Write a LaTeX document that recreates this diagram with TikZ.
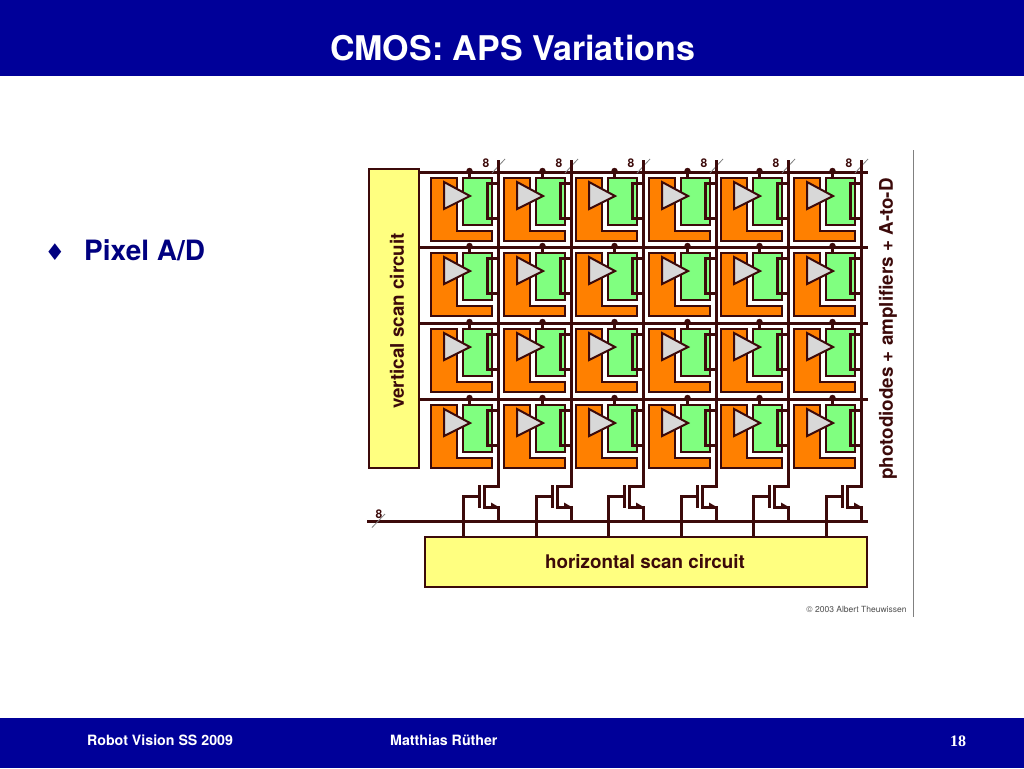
\documentclass[tikz,border=0pt]{standalone}
\usepackage{fontspec}
\setmainfont{TeX Gyre Heros}
\newfontfamily\serifbold{Liberation Serif}
\newfontfamily\symfont{DejaVu Sans}
\definecolor{barblue}{HTML}{000099}
\definecolor{navy}{HTML}{000080}
\definecolor{wire}{HTML}{3C0A0A}
\definecolor{pxorange}{HTML}{FF8000}
\definecolor{pxgreen}{HTML}{80FF80}
\definecolor{tri}{HTML}{D8D8D8}
\definecolor{scan}{HTML}{FFFF80}
\tikzset{
  bar/.style={fill=barblue,draw=none},
  scanbox/.style={draw=wire,fill=scan,line width=2pt,inner sep=0pt},
  cellpart/.style={draw=wire,line width=2pt,line join=miter},
  buswire/.style={draw=wire,line width=3pt},
  thinwire/.style={draw=wire,line width=3pt},
  slash/.style={draw=gray,line width=.8pt},
  eightlabel/.style={font=\bfseries\fontsize{12}{12}\selectfont,text=wire,inner sep=0pt},
  rotlabel/.style={font=\bfseries\fontsize{18.8}{18.8}\selectfont,text=wire,rotate=90,inner sep=0pt},
  foot/.style={font=\bfseries\fontsize{14.2}{14.2}\selectfont,text=white,inner sep=0pt,anchor=west}
}
\begin{document}
\begin{tikzpicture}[x=1pt,y=-1pt]
\useasboundingbox (0,0) rectangle (1024,768);
\fill[white] (0,0) rectangle (1024,768);
\path[bar] (0,0) rectangle (1024,76);
\path[bar] (0,718) rectangle (1024,768);
\node[inner sep=0pt,text=white,font=\bfseries\fontsize{34}{34}\selectfont] (title) at (512.5,48) {CMOS: APS Variations};
\node[inner sep=0pt,text=navy,font=\symfont\fontsize{23}{23}\selectfont] (bullet) at (55,252) {♦};
\node[inner sep=0pt,anchor=west,text=navy,font=\bfseries\fontsize{28}{28}\selectfont] (item) at (84,250) {Pixel A/D};
\node[foot] (f1) at (87,740) {Robot Vision SS 2009};
\node[foot] (f2) at (390,740) {Matthias Rüther};
\node[inner sep=0pt,text=white,font=\serifbold\bfseries\fontsize{16}{16}\selectfont] (f3) at (958,741) {18};

% scan blocks
\node[scanbox,minimum width=50pt,minimum height=299pt] (vscan) at (394,318.5) {};
\node[scanbox,minimum width=442pt,minimum height=50pt] (hscan) at (646,562) {};
\node[rotlabel] (vtext) at (397,321) {vertical scan circuit};
\node[inner sep=0pt,font=\bfseries\fontsize{18.8}{18.8}\selectfont,text=wire] (htext) at (645,562) {horizontal scan circuit};
\node[rotlabel] (ptext) at (888,329) {photodiodes + amplifiers + A-to-D};
\node[inner sep=0pt,font=\fontsize{8.5}{8.5}\selectfont,text=black!70] (copy) at (856.5,609.5) {© 2003 Albert Theuwissen};
\coordinate (rtop) at (913.5,150);
\coordinate (rbot) at (913.5,617);
\draw[gray,line width=1.5pt] (rtop) -- (rbot);

% buses
\foreach \y/\n in {172.5/0,247.5/1,323.5/2,399.5/3}{
  \coordinate (bl\n) at (419,\y);
  \coordinate (br\n) at (868,\y);
  \draw[buswire] (bl\n) -- (br\n);
}
\coordinate (hbl) at (367,521.5);
\coordinate (hbr) at (868,521.5);
\draw[buswire] (hbl) -- (hbr);
\coordinate (hs1) at (372,527.5); \coordinate (hs2) at (385,514);
\draw[slash] (hs1) -- (hs2);
\node[eightlabel] (h8) at (379,514.5) {8};

% cells
\foreach \c/\xx in {0/431,1/504,2/576,3/649,4/721,5/794}{
  \begin{scope}[shift={(\xx,0)}]
    \coordinate (vtop\c) at (67.5,160);
    \coordinate (s1\c) at (61,173); \coordinate (s2\c) at (74,159);
    \draw[slash] (s1\c) -- (s2\c);
    \node[eightlabel] (e\c) at (55,163.5) {8};
    \foreach \r/\yy in {0/0,1/75,2/151,3/227}{
      \begin{scope}[yshift=-\yy pt]
        \path[cellpart,fill=pxorange] (0,178) -- (26,178) -- (26,231) -- (61,231) -- (61,241) -- (0,241) -- cycle;
        \path[cellpart,fill=pxgreen] (32,178) rectangle (61,225);
        \path[cellpart,fill=tri] (13,182) -- (39,196) -- (13,209) -- cycle;
        \coordinate (d\c\r) at (38.5,171);
        \coordinate (g\c\r) at (38.5,178);
        \fill[wire] (d\c\r) circle (3.2pt);
        \draw[thinwire] (d\c\r) -- (g\c\r);
        \coordinate (w1\c\r) at (67.5,183.5); \coordinate (w2\c\r) at (56.5,183.5);
        \coordinate (w3\c\r) at (56.5,218.5); \coordinate (w4\c\r) at (67.5,218.5);
        \draw[thinwire,line join=miter] (w1\c\r) -- (w2\c\r) -- (w3\c\r) -- (w4\c\r);
      \end{scope}
    }
    % column wire and transistor
    \coordinate (t0\c) at (67.5,486.5); \coordinate (t1\c) at (53.5,486.5);
    \coordinate (t2\c) at (53.5,507.5); \coordinate (t3\c) at (67.5,507.5);
    \coordinate (t4\c) at (67.5,521);
    \draw[thinwire,line join=miter] (vtop\c) -- (t0\c) -- (t1\c) -- (t2\c) -- (t3\c) -- (t4\c);
    \coordinate (gt\c) at (48.5,485); \coordinate (gb\c) at (48.5,508);
    \draw[thinwire] (gt\c) -- (gb\c);
    \coordinate (gw\c) at (48.5,496.5); \coordinate (gc\c) at (32.5,496.5); \coordinate (gd\c) at (32.5,537);
    \draw[thinwire,line join=miter] (gw\c) -- (gc\c) -- (gd\c);
    \fill[wire] (60,502.5) -- (66,506) -- (60,509) -- cycle;
  \end{scope}
}
\end{tikzpicture}
\end{document}
